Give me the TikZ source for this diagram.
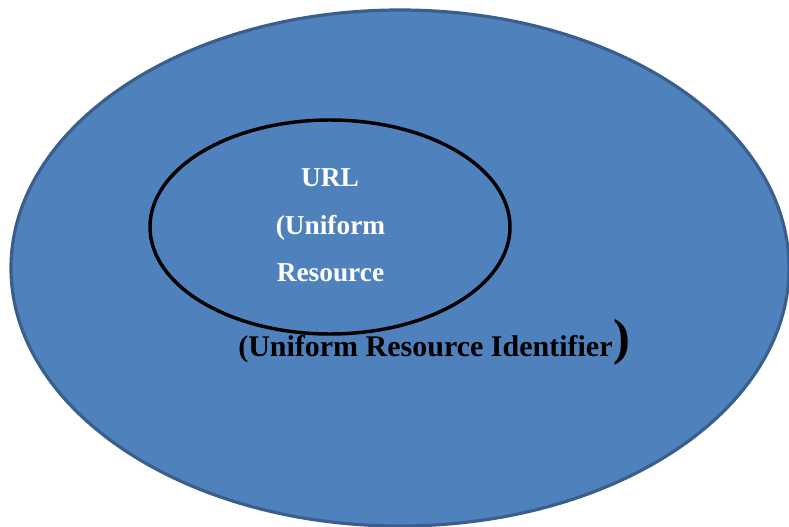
\documentclass[tikz,border=0pt]{standalone}
\usepackage{fontspec}
\setmainfont{Liberation Serif}
\definecolor{fillblue}{HTML}{4F81BD}
\definecolor{edgeblue}{HTML}{3A5F8C}
\begin{document}
\begin{tikzpicture}[x=0.75pt,y=-0.75pt,
  whitetxt/.style={text=white,font=\fontsize{20.5}{24}\selectfont\bfseries,anchor=base,inner sep=0pt},
  blacktxt/.style={text=black,font=\fontsize{22.5}{26}\selectfont\bfseries,anchor=base,inner sep=0pt}]
\useasboundingbox (0,0) rectangle (789,527);
\draw[fill=fillblue,draw=edgeblue,line width=2.4pt] (400,268) ellipse [x radius=389,y radius=258];
\draw[black,line width=2.6pt] (330,227) ellipse [x radius=180,y radius=107];
\node[whitetxt] (url) at (330,187) {URL};
\node[whitetxt] (uni) at (330.5,235) {(Uniform};
\node[whitetxt] (res) at (330.5,282) {Resource};
\node[blacktxt,anchor=base west] (uri) at (238,356) {(Uniform Resource Identifier};
\node[text=black,font=\fontsize{38}{40}\selectfont\bfseries,inner sep=0pt] (paren) at (622,342) {)};
\end{tikzpicture}
\end{document}
